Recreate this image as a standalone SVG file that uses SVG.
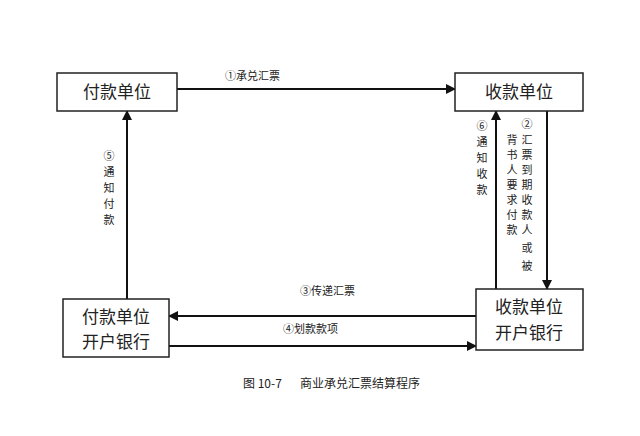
<svg xmlns="http://www.w3.org/2000/svg" width="640" height="436" viewBox="0 0 640 436">
<style>
text{font-family:"Noto Sans CJK SC","Liberation Sans",sans-serif;fill:#222}
.b{fill:#fff;stroke:#222;stroke-width:1.5}
.n{font-size:17px}
.s{font-size:11px}
.c{stroke:#111;stroke-width:2;fill:none;marker-end:url(#a)}
</style>
<defs><marker id="a" viewBox="0 0 10 10" refX="9" refY="5" markerWidth="5" markerHeight="5" orient="auto"><path d="M0,0L10,5L0,10z" fill="#111"/></marker></defs>
<rect width="640" height="436" fill="#fff"/>
<g id="connectors">
<line class="c" x1="177" y1="89" x2="455" y2="89"/>
<line class="c" x1="547" y1="111" x2="547" y2="289"/>
<line class="c" x1="496" y1="289" x2="496" y2="111"/>
<line class="c" x1="127" y1="299" x2="127" y2="111"/>
<line class="c" x1="476" y1="316" x2="169" y2="316"/>
<line class="c" x1="169" y1="346" x2="476" y2="346"/>
<text class="s" x="225" y="80">①承兑汇票</text>
<text class="s" x="300" y="295">③传递汇票</text>
<text class="s" x="283" y="333">④划款款项</text>
<text class="s" text-anchor="middle"><tspan x="109" y="160">⑤</tspan><tspan x="109" y="176">通</tspan><tspan x="109" y="192">知</tspan><tspan x="109" y="208">付</tspan><tspan x="109" y="224">款</tspan></text>
<text class="s" text-anchor="middle"><tspan x="482" y="130">⑥</tspan><tspan x="482" y="146">通</tspan><tspan x="482" y="162">知</tspan><tspan x="482" y="178">收</tspan><tspan x="482" y="194">款</tspan></text>
<text class="s" text-anchor="middle"><tspan x="527" y="128">②</tspan><tspan x="527" y="144">汇</tspan><tspan x="527" y="159">票</tspan><tspan x="527" y="174">到</tspan><tspan x="527" y="189">期</tspan><tspan x="527" y="204">收</tspan><tspan x="527" y="219">款</tspan><tspan x="527" y="234">人</tspan><tspan x="527" y="252">或</tspan><tspan x="527" y="270">被</tspan></text>
<text class="s" text-anchor="middle"><tspan x="512" y="144">背</tspan><tspan x="512" y="159">书</tspan><tspan x="512" y="174">人</tspan><tspan x="512" y="189">要</tspan><tspan x="512" y="204">求</tspan><tspan x="512" y="219">付</tspan><tspan x="512" y="234">款</tspan></text>
</g>
<g id="payer"><rect class="b" x="57" y="73" width="120" height="38"/><text class="n" x="117" y="98" text-anchor="middle">付款单位</text></g>
<g id="payee"><rect class="b" x="455" y="73" width="128" height="38"/><text class="n" x="519" y="98" text-anchor="middle">收款单位</text></g>
<g id="payerbank"><rect class="b" x="63" y="299" width="106" height="58"/><text class="n" x="116" y="323" text-anchor="middle">付款单位</text><text class="n" x="116" y="348" text-anchor="middle">开户银行</text></g>
<g id="payeebank"><rect class="b" x="476" y="289" width="107" height="61"/><text class="n" x="529" y="313" text-anchor="middle">收款单位</text><text class="n" x="529" y="339" text-anchor="middle">开户银行</text></g>
<text x="243" y="388" font-size="12">图 10-7</text>
<text x="300" y="388" font-size="12">商业承兑汇票结算程序</text>
</svg>
